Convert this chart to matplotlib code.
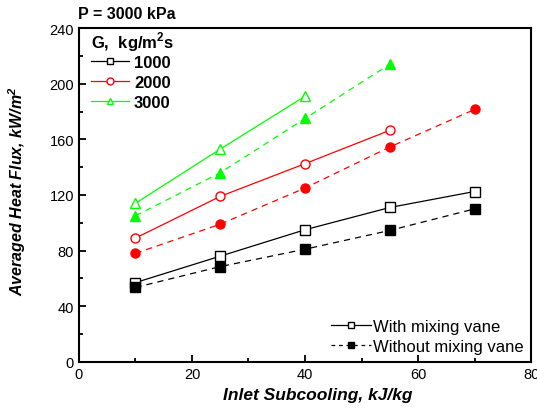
import matplotlib
matplotlib.use("Agg")
import matplotlib.pyplot as plt
from matplotlib.ticker import MultipleLocator

plt.rcParams['font.family'] = ['Liberation Sans', 'DejaVu Sans']

# inlet subcooling, kJ/kg
x_vals = [10, 25, 40, 55, 70]

# with mixing vane (open markers, solid lines)
with_1000 = [57, 76, 95, 111, 122.5]
with_2000 = [89, 119, 142.5, 166.5]
with_3000 = [114, 153, 191]

# without mixing vane (filled markers, dashed lines)
without_1000 = [53.5, 68.5, 81, 94.5, 110]
without_2000 = [78, 99, 125, 154.5, 181.5]
without_3000 = [105, 136, 175, 214]

mass_flux = ['1000', '2000', '3000']
colors = ['black', '#FF0000', '#00FF00']
markers = ['s', 'o', '^']

fig = plt.figure(figsize=(5.37, 4.10), dpi=100)
ax = fig.add_axes([0.147, 0.115, 0.842, 0.814])

with_series = [with_1000, with_2000, with_3000]
without_series = [without_1000, without_2000, without_3000]

handles = []
for ys, c, m in zip(with_series, colors, markers):
    ax.plot(x_vals[:len(ys)], ys, color=c, lw=0.9, marker=m, ms=6.5,
            mfc='white', mec=c, mew=1.0)
    # smaller copy for the legend
    h, = ax.plot([], [], color=c, lw=0.9, marker=m, ms=5, mfc='white', mec=c, mew=1.0)
    handles.append(h)
for ys, c, m in zip(without_series, colors, markers):
    ax.plot(x_vals[:len(ys)], ys, color=c, lw=0.9, ls=(0, (5, 4)), marker=m, ms=6.5,
            mfc=c, mec=c)

ax.set_xlim(0, 80)
ax.set_ylim(0, 240)
ax.xaxis.set_major_locator(MultipleLocator(20))
ax.xaxis.set_minor_locator(MultipleLocator(10))
ax.yaxis.set_major_locator(MultipleLocator(40))
ax.yaxis.set_minor_locator(MultipleLocator(20))
ax.tick_params(which='both', direction='in', labelsize=10.5, width=1.3)
ax.tick_params(which='major', length=5)
ax.tick_params(which='minor', length=3)
for s in ax.spines.values():
    s.set_linewidth(1.5)

ax.set_xlabel('Inlet Subcooling, kJ/kg', fontsize=12.5, fontweight='bold', style='italic', labelpad=4)
ax.xaxis.set_label_coords(0.528, -0.075)
ax.set_ylabel('Averaged Heat Flux, kW/m$^\\mathregular{2}$', fontsize=11.5, fontweight='bold',
              style='italic')
ax.yaxis.set_label_coords(-0.113, 0.515)

fig.text(0.145, 0.947, 'P = 3000 kPa', fontsize=11.5, fontweight='bold', va='bottom')

leg1 = ax.legend(handles, mass_flux, loc='upper left', bbox_to_anchor=(0.0, 1.03),
                 frameon=False, title='G,  kg/m$^\\mathregular{2}$s',
                 prop={'weight': 'bold', 'size': 12},
                 handlelength=2.3, handletextpad=0.3, labelspacing=0.3,
                 borderaxespad=0.3)
leg1.get_title().set_fontweight('bold')
leg1.get_title().set_fontsize(12)
leg1._legend_box.align = 'left'
leg1._legend_box.sep = 1
ax.add_artist(leg1)

h_with, = ax.plot([], [], color='black', lw=0.9, marker='s', ms=4.5, mfc='white', mec='black')
h_without, = ax.plot([], [], color='black', lw=0.9, ls=(0, (3, 3)), marker='s', ms=4.5,
                     mfc='black', mec='black')
ax.legend([h_with, h_without], ['With mixing vane', 'Without mixing vane'],
          loc='lower right', frameon=False, fontsize=12, handlelength=2.4,
          handletextpad=0.15, labelspacing=0.3, borderaxespad=0.3,
          bbox_to_anchor=(1.01, -0.012))

fig.savefig('out.png', dpi=100)
